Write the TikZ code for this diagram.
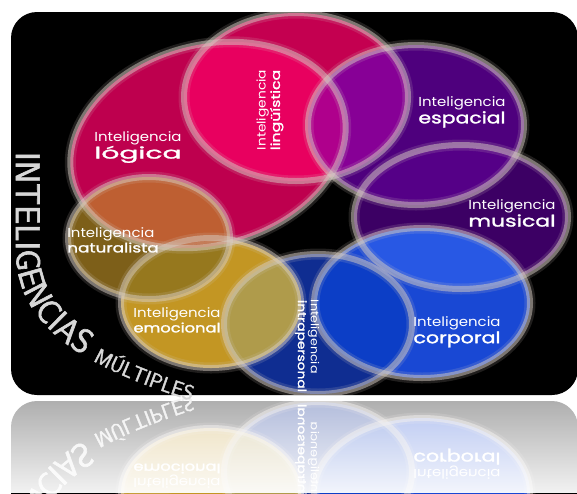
\documentclass[tikz,border=0pt]{standalone}
\usepackage{fontspec}
\usepackage{graphicx}
\usetikzlibrary{decorations.text,fadings}
\newfontfamily\popfont[FakeStretch=1.15]{Poppins}
\newfontfamily\popbold[FakeStretch=1.15,FakeBold=1.6]{Poppins}
\newfontfamily\handfont[FakeBold=1.8]{Latin Modern Sans}
\definecolor{cLog}{RGB}{190,0,78}
\definecolor{cLin}{RGB}{196,0,80}
\definecolor{cLogLin}{RGB}{232,0,95}
\definecolor{cEsp}{RGB}{78,0,125}
\definecolor{cLinEsp}{RGB}{135,0,150}
\definecolor{cTri}{RGB}{175,0,140}
\definecolor{cMus}{RGB}{60,0,100}
\definecolor{cEspMus}{RGB}{85,0,135}
\definecolor{cCor}{RGB}{25,72,212}
\definecolor{cMusCor}{RGB}{40,88,228}
\definecolor{cInt}{RGB}{15,45,145}
\definecolor{cIntCor}{RGB}{12,62,198}
\definecolor{cEmo}{RGB}{195,150,35}
\definecolor{cEmoInt}{RGB}{175,155,75}
\definecolor{cEmoLog}{RGB}{200,110,45}
\definecolor{cNat}{RGB}{125,95,25}
\definecolor{cNatLog}{RGB}{190,95,50}
\definecolor{cNatEmo}{RGB}{150,120,30}
\definecolor{ringc}{RGB}{215,205,195}
\definecolor{chalk}{RGB}{215,215,215}
\tikzfading[name=fadedown, top color=transparent!100, bottom color=transparent!15]
\newlength\labw
\newcommand\lbl[3]{\settowidth\labw{Inteligencia}\begin{tabular}{@{}l@{}}Inteligencia\\[1pt]\resizebox{#3\labw}{\height}{\popbold\fontsize{#1}{#1}\selectfont #2}\end{tabular}}
\newcommand\hfA{\handfont\fontsize{34}{34}\selectfont}
\newcommand\hfB{\handfont\fontsize{21}{21}\selectfont}
\def\pLOG{(208,145) ellipse [x radius=140pt, y radius=100pt]}
\def\pLIN{(296,97) ellipse [x radius=112pt, y radius=84pt]}
\def\pESP{(416,125) ellipse [x radius=108pt, y radius=80pt]}
\def\pMUS{(461,217) ellipse [x radius=107pt, y radius=72pt]}
\def\pCOR{(422,303) ellipse [x radius=108pt, y radius=75pt]}
\def\pINT{(318,324) ellipse [x radius=94pt, y radius=70pt]}
\def\pEMO{(211,303) ellipse [x radius=90pt, y radius=65pt]}
\def\pNAT{(149,238) ellipse [x radius=81pt, y radius=61pt]}
\newcommand\ov[5]{\begin{scope}\clip[#1]#2;\fill[#5,#3]#4;\end{scope}}
\tikzset{
  lab/.style={text=white, font=\popfont\fontsize{#1}{#1}\selectfont, inner sep=0pt},
  ring/.style={draw=ringc, line width=6pt, draw opacity=0.5},
  glow/.style={draw=ringc, line width=11pt, draw opacity=0.15},
  eLOG/.style={rotate around={15:(208,145)}},
  eN/.style={},
}
\newcommand\scene[1]{%
  \fill[black, rounded corners=26pt] (11,12) rectangle (578,395);
  \begin{scope}
    \clip[rounded corners=26pt] (11,12) rectangle (578,395);
    \fill[cLog,eLOG]\pLOG;
    \fill[cLin]\pLIN;
    \fill[cEsp]\pESP;
    \fill[cMus]\pMUS;
    \fill[cCor]\pCOR;
    \fill[cInt]\pINT;
    \fill[cEmo]\pEMO;
    \fill[cNat]\pNAT;
    \ov{eLOG}{\pLOG}{eN}{\pLIN}{cLogLin}
    \ov{eN}{\pLIN}{eN}{\pESP}{cLinEsp}
    \ov{eN}{\pESP}{eN}{\pMUS}{cEspMus}
    \ov{eN}{\pMUS}{eN}{\pCOR}{cMusCor}
    \ov{eN}{\pINT}{eN}{\pCOR}{cIntCor}
    \ov{eN}{\pEMO}{eN}{\pINT}{cEmoInt}
    \ov{eLOG}{\pLOG}{eN}{\pEMO}{cEmoLog}
    \ov{eN}{\pEMO}{eN}{\pNAT}{cNatEmo}
    \ov{eLOG}{\pLOG}{eN}{\pNAT}{cNatLog}
    \begin{scope}\clip[eLOG]\pLOG;\clip\pLIN;\fill[cTri]\pESP;\end{scope}
    \draw[glow,eLOG]\pLOG; \draw[ring,eLOG]\pLOG;
    \draw[glow]\pLIN; \draw[ring]\pLIN;
    \draw[glow]\pESP; \draw[ring]\pESP;
    \draw[glow]\pMUS; \draw[ring]\pMUS;
    \draw[glow]\pCOR; \draw[ring]\pCOR;
    \draw[glow]\pINT; \draw[ring]\pINT;
    \draw[glow]\pEMO; \draw[ring]\pEMO;
    \draw[glow]\pNAT; \draw[ring]\pNAT;
  \end{scope}
  \node[lab=13] (logica) at (138,147) {\lbl{16}{lógica}{1}};
  \node[lab=12, rotate=90] (ling) at (270,110) {\lbl{12.5}{lingüística}{1}};
  \node[lab=13] (esp) at (462,112) {\lbl{16}{espacial}{1}};
  \node[lab=13] (mus) at (512,215) {\lbl{16}{musical}{1}};
  \node[lab=13] (cor) at (457,332) {\lbl{16}{corporal}{1}};
  \node[lab=11, rotate=-90] (intra) at (307,346) {\lbl{11.5}{intrapersonal}{1.25}};
  \node[lab=13] (emo) at (177,322) {\lbl{13}{emocional}{1}};
  \node[lab=13] (nat) at (113,242) {\lbl{13}{naturalista}{1.05}};
  \path[decorate, decoration={text along path, #1, text color=chalk,
     text={|\hfA|INTELIGENCIAS |\hfB|MÚLTIPLES}}]
     (16,152) -- (16,250) .. controls (16,330) and (90,370) .. (205,405);
}
\begin{document}
\begin{tikzpicture}[x=1pt,y=-1pt]
\useasboundingbox (0,0) rectangle (577,493);
\fill[white] (0,0) rectangle (577,493);
\begin{scope}
  \clip (0,398) rectangle (580,493);
  \begin{scope}[shift={(0,796)},yscale=-1,transform shape]
    \scene{mirror}
  \end{scope}
  \fill[white,opacity=0.68] (0,398) rectangle (580,493);
  \fill[white,path fading=fadedown] (0,398) rectangle (580,493);
\end{scope}
\scene{mirror=false}
\end{tikzpicture}
\end{document}
